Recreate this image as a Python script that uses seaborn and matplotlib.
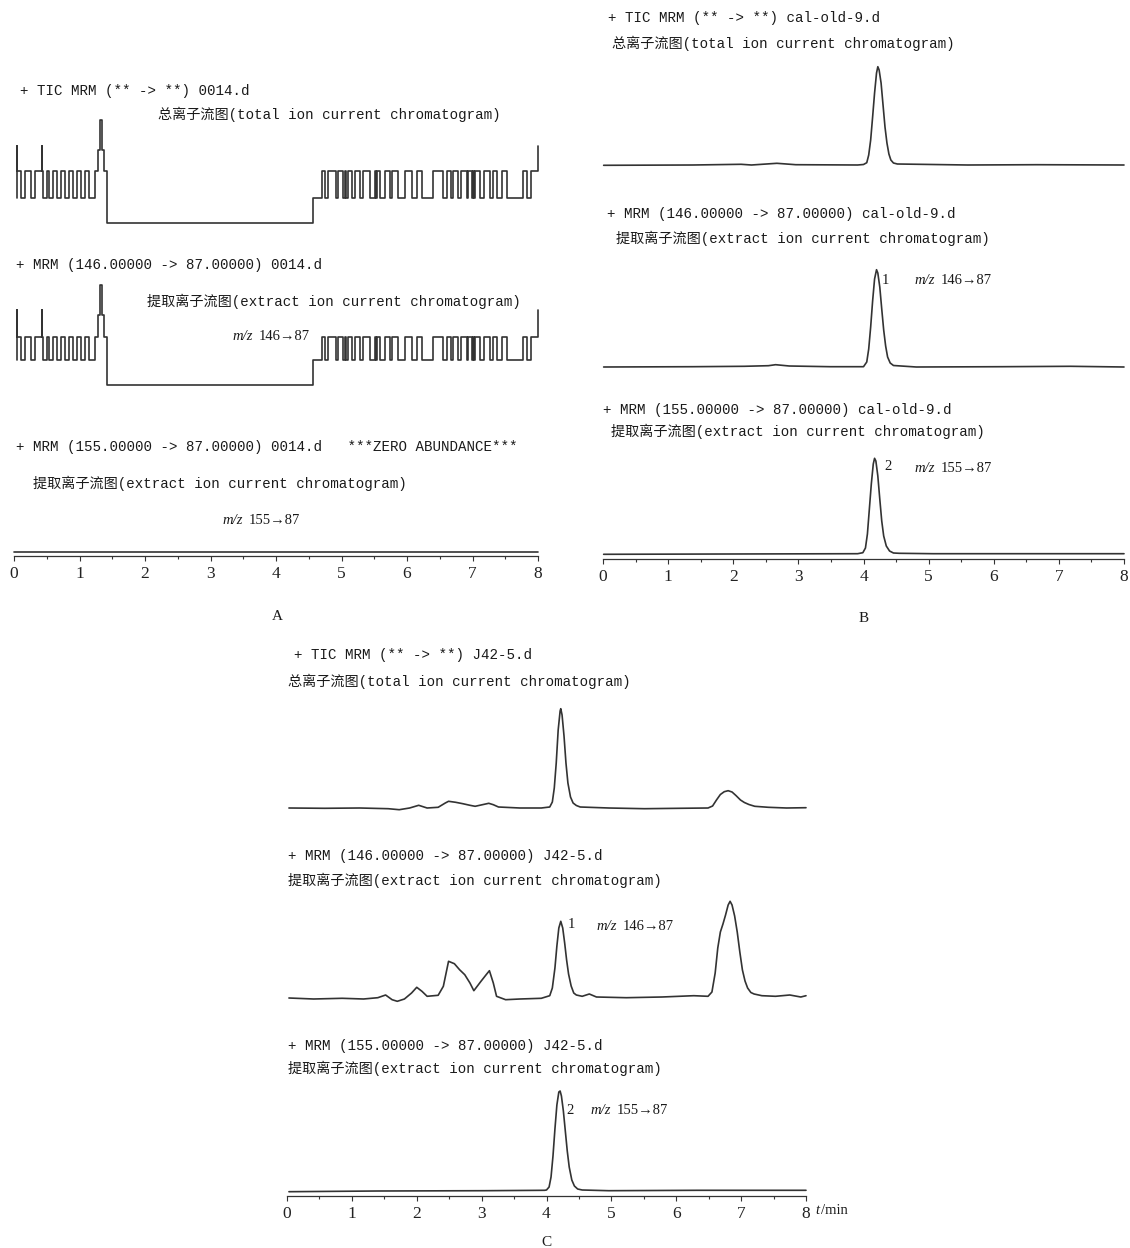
import numpy as np
import matplotlib
matplotlib.use("Agg")
import matplotlib.pyplot as plt
import pandas as pd
import seaborn as sns

# MRM chromatograms, panels A (blank), B (standard), C (sample)
W, H = 1130, 1248
TICKS = [0, 1, 2, 3, 4, 5, 6, 7, 8]

# panel A: step-like traces, times in min
A_SPIKES = [0.046, 0.427, 7.995]
A_LEFT_DIPS = [(0.107, 0.168), (0.26, 0.32), (0.443, 0.504), (0.534, 0.595),
               (0.656, 0.718), (0.779, 0.84), (0.90, 0.962), (1.023, 1.084),
               (1.145, 1.237)]
A_PEAK_T = [1.282, 1.313, 1.351, 1.374, 1.420]
A_RISE_T = [4.565, 4.70]
A_RIGHT_DIPS = [(4.748, 4.794), (4.916, 4.947), (5.023, 5.053), (5.069, 5.099),
                (5.160, 5.206), (5.282, 5.328), (5.435, 5.511), (5.527, 5.542),
                (5.588, 5.664), (5.740, 5.771), (5.863, 5.969), (6.076, 6.153),
                (6.229, 6.397), (6.550, 6.611), (6.672, 6.702), (6.779, 6.824),
                (6.916, 6.931), (6.992, 7.008), (7.023, 7.038), (7.115, 7.176),
                (7.267, 7.313), (7.374, 7.450), (7.527, 7.771), (7.832, 7.893)]
# low, high, spike, shoulder, peak
A1_LEVELS = [25, 52, 77, 73, 103]
A2_LEVELS = [25, 48, 75, 70, 100]
A3_T = [0.0, 8.0]
A3_Y = [0.0, 0.0]

# panel B
B1_T = [0.01, 1.38, 2.12, 2.28, 2.67, 2.96, 3.91, 4.00, 4.05, 4.08, 4.11, 4.14, 4.17, 4.20, 4.22,
        4.24, 4.27, 4.30, 4.33, 4.36, 4.39, 4.42, 4.46, 4.52, 5.60, 6.66, 8.0]
B1_Y = [-0.3, 0, 0.7, 0, 1.7, 0.3, 0, 0.5, 2.3, 10, 25, 48, 72, 92, 98.3,
        95, 82, 60, 38, 22, 11, 5, 2, 1, 0, 0.3, 0]
B2_T = [0.01, 1.38, 2.17, 2.54, 2.65, 2.86, 3.49, 4.00, 4.05, 4.08, 4.11, 4.14, 4.17, 4.20, 4.22,
        4.25, 4.28, 4.31, 4.34, 4.37, 4.41, 4.46, 4.81, 6.13, 7.18, 8.0]
B2_Y = [0, 0.3, 0.7, 1.3, 2.3, 1, 0.3, 0.3, 5, 18, 40, 66, 88, 97.3, 94,
        80, 58, 37, 21, 10, 4, 1.5, 0, 0.3, 0.7, 0]
B3_T = [0.01, 1.91, 3.91, 3.99, 4.03, 4.06, 4.09, 4.12, 4.15, 4.17, 4.19, 4.22, 4.25, 4.28, 4.31,
        4.35, 4.40, 4.46, 4.55, 5.07, 8.0]
B3_Y = [-0.3, 0, 0.3, 1.3, 6, 20, 45, 70, 90, 95.7, 93, 78, 55, 33, 18,
        8, 3, 1, 0.7, 0.3, 0.3]

# panel C
C1_T = [0.03, 0.58, 1.12, 1.56, 1.73, 1.89, 2.03, 2.16, 2.33, 2.44, 2.49, 2.60, 2.71, 2.82, 2.90,
        3.04, 3.11, 3.18, 3.26, 3.59, 3.92, 4.05, 4.09, 4.12, 4.15, 4.18, 4.21, 4.22, 4.24, 4.27,
        4.30, 4.33, 4.37, 4.41, 4.46, 4.52, 4.96, 5.51, 6.05, 6.49, 6.56, 6.62, 6.68, 6.74, 6.80,
        6.86, 6.92, 6.99, 7.05, 7.12, 7.21, 7.42, 7.70, 8.0]
C1_Y = [0, -0.3, 0, -0.7, -1.7, 0, 2.7, 0, 0.7, 5, 6.7, 5.7, 4.3, 2.7, 1.7,
        3.7, 4.7, 3.3, 1, 0, 0, 1, 6, 20, 45, 78, 97, 99.3, 93, 72,
        45, 25, 11, 5, 2.5, 1, 0, -0.7, -0.3, 0, 2, 8, 13.5, 16.3, 17.3,
        16, 12.5, 8, 5.5, 3.5, 1.7, 0.7, 0, 0.3]
C2_T = [0.03, 0.41, 0.85, 1.18, 1.40, 1.52, 1.62, 1.70, 1.81, 1.92, 2.00, 2.08, 2.16, 2.33, 2.41,
        2.49, 2.58, 2.66, 2.74, 2.82, 2.88, 2.99, 3.07, 3.12, 3.18, 3.23, 3.37, 3.59, 3.92, 4.05,
        4.09, 4.13, 4.16, 4.19, 4.22, 4.25, 4.28, 4.31, 4.34, 4.38, 4.42, 4.46, 4.55, 4.66, 4.77,
        5.23, 5.78, 6.27, 6.49, 6.55, 6.60, 6.64, 6.68, 6.72, 6.76, 6.80, 6.83, 6.86, 6.90, 6.94,
        6.98, 7.02, 7.06, 7.10, 7.15, 7.20, 7.32, 7.53, 7.75, 7.92, 8.0]
C2_Y = [0, -1, -0.3, -1, 0.3, 3, -1.7, -3.3, -1, 5, 10.7, 6.7, 1.7, 2.7, 11.7,
        36.7, 34.3, 28.3, 23.3, 15, 7.3, 16.7, 23.3, 27.3, 15, 1.7, -1.7, -1, -0.3, 2.3,
        10, 30, 52, 70, 76.7, 70, 55, 38, 24, 12, 5, 3, 1.7, 4, 1,
        0.3, 1, 2.3, 1.7, 6, 25, 50, 66, 74, 83, 93, 96.7, 93, 82, 66,
        46, 28, 17, 10, 5.5, 4, 2.3, 1.7, 3, 1, 2.3]
C3_T = [0.03, 1.40, 3.04, 3.97, 4.00, 4.04, 4.07, 4.10, 4.13, 4.16, 4.19, 4.21, 4.23, 4.26, 4.29,
        4.32, 4.35, 4.39, 4.43, 4.48, 4.55, 4.96, 6.33, 8.0]
C3_Y = [-0.7, 0, 0.3, 0.7, 1, 4, 14, 35, 62, 86, 99, 100, 95, 80, 60,
        40, 24, 11, 5, 2, 1, 0.3, 0.7, 0.7]

LINE = "#333333"
MONO = ["Liberation Mono", "Noto Sans CJK SC", "DejaVu Sans"]
SERIF = ["Liberation Serif", "DejaVu Serif"]

sns.set_theme(style="white")
plt.rcParams["font.family"] = MONO

fig = plt.figure(figsize=(W / 100, H / 100), dpi=100)


def a_trace(lv):
    lo, hi, sp, sh, pk = lv
    pts = [(0.040, lo), (A_SPIKES[0], sp), (A_SPIKES[0] + 0.006, hi),
           (A_SPIKES[1], sp), (A_SPIKES[1] + 0.005, hi)]
    for a, b in A_LEFT_DIPS + A_RIGHT_DIPS:
        pts += [(a, lo), (b, hi)]
    pts += list(zip(A_PEAK_T, [sh, pk, sh, hi, 0]))
    pts += [(A_RISE_T[0], lo), (A_RISE_T[1], hi), (A_SPIKES[2], sp), (8.0, sp)]
    pts.sort()
    return pd.DataFrame(pts, columns=["t", "y"])


def trace_ax(x0, x8, base, df, axis_px=None, steps=False):
    hpx = 130
    ax = fig.add_axes([x0 / W, 1 - base / H, (x8 - x0) / W, hpx / H])
    kw = dict(drawstyle="steps-post") if steps else {}
    sns.lineplot(data=df, x="t", y="y", ax=ax, color=LINE, lw=1.2,
                 estimator=None, sort=False, **kw)
    for ln in ax.lines:
        ln.set_clip_on(False)
    ax.set_xlim(0, 8)
    ax.set_ylim(0, hpx)
    ax.set(xlabel="", ylabel="")
    ax.set_yticks([])
    ax.patch.set_alpha(0)
    for s in ["top", "right", "left"]:
        ax.spines[s].set_visible(False)
    if axis_px is None:
        ax.spines["bottom"].set_visible(False)
        ax.set_xticks([])
    else:
        sp = ax.spines["bottom"]
        sp.set_position(("outward", (axis_px - base) * 0.72))
        sp.set_color(LINE)
        sp.set_linewidth(0.9)
        ax.set_xticks(TICKS)
        ax.set_xticks(np.arange(0.5, 8, 1.0), minor=True)
        ax.tick_params(axis="x", which="major", bottom=True, direction="out",
                       length=3.3, width=0.8, color=LINE, pad=4.0, labelsize=12.5)
        ax.tick_params(axis="x", which="minor", bottom=True, direction="out",
                       length=2.2, width=0.8, color=LINE)
        for lab in ax.get_xticklabels():
            lab.set_family(SERIF)
            lab.set_color("#222222")
    return ax


def df_of(t, y):
    return pd.DataFrame({"t": t, "y": y})


# panel A
trace_ax(14, 538, 223, a_trace(A1_LEVELS), steps=True)
trace_ax(14, 538, 385, a_trace(A2_LEVELS), steps=True)
trace_ax(14, 538, 552, df_of(A3_T, A3_Y), axis_px=556)
# panel B
trace_ax(603, 1124, 165, df_of(B1_T, B1_Y))
trace_ax(603, 1124, 367, df_of(B2_T, B2_Y))
trace_ax(603, 1124, 554, df_of(B3_T, B3_Y), axis_px=559)
# panel C
trace_ax(287, 806, 808, df_of(C1_T, C1_Y))
trace_ax(287, 806, 998, df_of(C2_T, C2_Y))
trace_ax(287, 806, 1191, df_of(C3_T, C3_Y), axis_px=1196)


def put(x, y, s, size=10.2, family=MONO, **kw):
    fig.text(x / W, 1 - y / H, s, fontsize=size, va="center", ha="left",
             color="#1a1a1a", family=family, **kw)


def mz(x, y, s):
    put(x, y, "m/z", size=10.5, family=SERIF, style="italic")
    put(x + 27, y, s, size=10.5, family=SERIF)


TIC = "总离子流图(total ion current chromatogram)"
EIC = "提取离子流图(extract ion current chromatogram)"

put(20, 91, "+ TIC MRM (** -> **) 0014.d")
put(158, 114, TIC)
put(16, 265, "+ MRM (146.00000 -> 87.00000) 0014.d")
put(147, 301, EIC)
mz(232, 337, "146→87")
put(16, 447, "+ MRM (155.00000 -> 87.00000) 0014.d   ***ZERO ABUNDANCE***")
put(33, 483, EIC)
mz(222, 520, "155→87")
put(272, 617, "A", size=11, family=SERIF)

put(608, 18, "+ TIC MRM (** -> **) cal-old-9.d")
put(612, 43, TIC)
put(607, 214, "+ MRM (146.00000 -> 87.00000) cal-old-9.d")
put(616, 238, EIC)
put(882, 280, "1", size=10.5, family=SERIF)
mz(914, 281, "146→87")
put(603, 410, "+ MRM (155.00000 -> 87.00000) cal-old-9.d")
put(611, 431, EIC)
put(884, 467, "2", size=10.5, family=SERIF)
mz(914, 469, "155→87")
put(859, 618, "B", size=11, family=SERIF)

put(294, 655, "+ TIC MRM (** -> **) J42-5.d")
put(288, 681, TIC)
put(288, 856, "+ MRM (146.00000 -> 87.00000) J42-5.d")
put(288, 880, EIC)
put(568, 925, "1", size=10.5, family=SERIF)
mz(596, 926, "146→87")
put(288, 1046, "+ MRM (155.00000 -> 87.00000) J42-5.d")
put(288, 1068, EIC)
put(566, 1110, "2", size=10.5, family=SERIF)
mz(590, 1110, "155→87")
put(815, 1211, "t", size=10.5, family=SERIF, style="italic")
put(821, 1211, "/min", size=10.5, family=SERIF)
put(541, 1242, "C", size=11, family=SERIF)

fig.savefig("out.png", dpi=100, facecolor="white")
